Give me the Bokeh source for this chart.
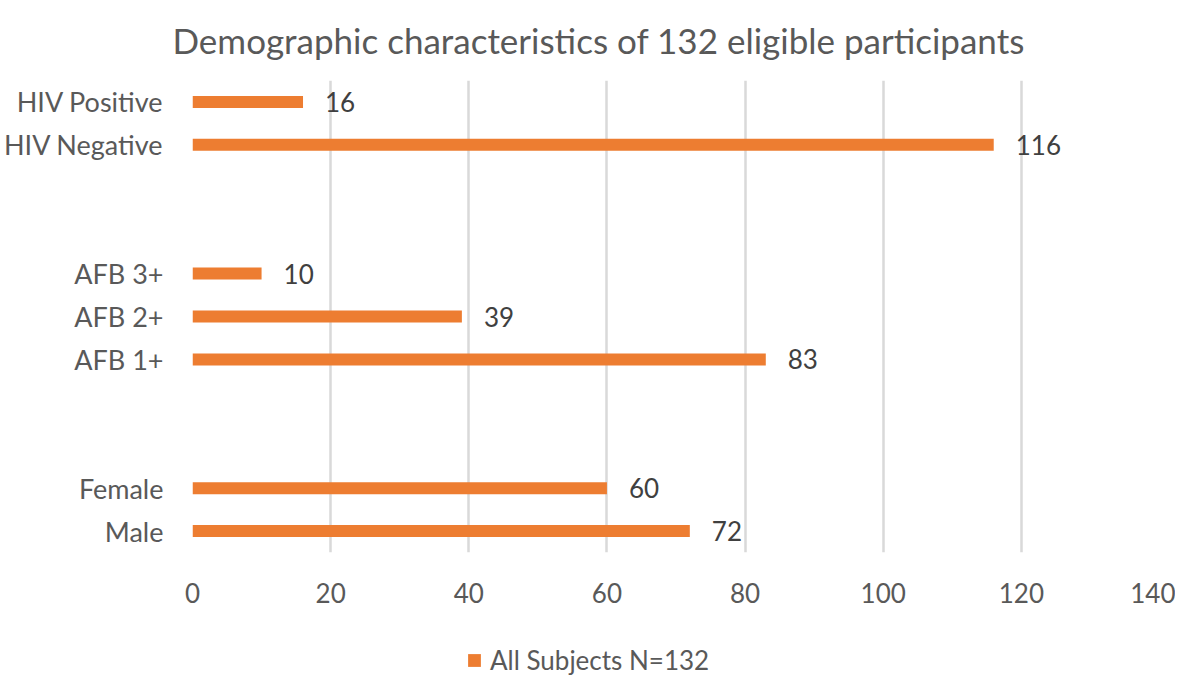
from bokeh.plotting import figure
from bokeh.layouts import column
from bokeh.models import ColumnDataSource, FactorRange, Legend, LegendItem, Title, LabelSet, FixedTicker
from bokeh.embed import file_html
from bokeh.resources import INLINE
from bokeh.core.properties import value

# Data (bottom to top); spacer rows are blank strings
categories = ["Male", "Female", " ", "  ", "AFB 1+", "AFB 2+", "AFB 3+", "   ", "    ", "HIV Negative", "HIV Positive"]
counts = [72, 60, None, None, 83, 39, 10, None, None, 116, 16]
x_ticks = [0, 20, 40, 60, 80, 100, 120, 140]
series_name = "All Subjects N=132"
title_text = "Demographic characteristics of 132 eligible participants"

FONT = "Lato"
BAR = "#ED7D31"
GREY = "#595959"

cats = [c for c, v in zip(categories, counts) if v is not None]
vals = [v for v in counts if v is not None]
src = ColumnDataSource(dict(cat=cats, val=vals, lbl=[str(v) for v in vals]))

p = figure(frame_width=967, frame_height=472, y_range=FactorRange(factors=categories, range_padding=0),
           x_range=(0, 140), output_backend="svg", toolbar_location=None,
           min_border_left=182, min_border_right=16, min_border_top=77, min_border_bottom=60)
p.outline_line_color = None
p.background_fill_color = "white"

r = p.hbar(y="cat", right="val", left=0, height=0.28, source=src, fill_color=BAR, line_color=None)

labels = LabelSet(x="val", y="cat", text="lbl", source=src, x_offset=22, y_offset=0,
                  text_baseline="middle", text_font=value(FONT), text_font_size="26px", text_color="#404040")
p.add_layout(labels)

p.xaxis.ticker = FixedTicker(ticks=x_ticks)
p.xgrid.ticker = FixedTicker(ticks=x_ticks)
p.xgrid.grid_line_color = "#D9D9D9"
p.xgrid.grid_line_width = 2.5
p.ygrid.grid_line_color = None

for ax in (p.xaxis[0], p.yaxis[0]):
    ax.axis_line_color = None
    ax.major_tick_line_color = None
    ax.minor_tick_line_color = None
    ax.major_label_text_font = FONT
    ax.major_label_text_color = GREY
    ax.major_label_text_font_size = "26px"
p.yaxis.major_label_text_font_size = "27px"
p.xaxis.major_label_standoff = 24
p.yaxis.major_label_standoff = 23

p.title = Title(text=title_text, align="left", offset=-20, vertical_align="top",
                text_font=FONT, text_font_size="35px", text_font_style="normal", text_color=GREY, standoff=36)

# legend strip below the chart (proxy renderer draws the legend swatch; its bars fall outside the strip's range)
leg = figure(frame_width=1165, frame_height=66, x_range=(0, 1), y_range=(0, 1),
             x_axis_type=None, y_axis_type=None, output_backend="svg", toolbar_location=None,
             min_border=0)
leg.outline_line_color = None
leg.xgrid.grid_line_color = None
leg.ygrid.grid_line_color = None
lr = leg.hbar(y="val", right="val", left="val", height=0.5, source=src, fill_color=BAR, line_color=None)
legend = Legend(items=[LegendItem(label=series_name, renderers=[lr])], orientation="horizontal",
                location=(466, 2), glyph_width=16, glyph_height=16, label_text_font=FONT,
                label_text_font_size="26px", label_text_color=GREY, border_line_color=None,
                background_fill_alpha=0, label_standoff=8, padding=0, margin=0)
leg.add_layout(legend, "center")

layout = column(p, leg, spacing=0)
open("out.html", "w").write(file_html(layout, INLINE))
